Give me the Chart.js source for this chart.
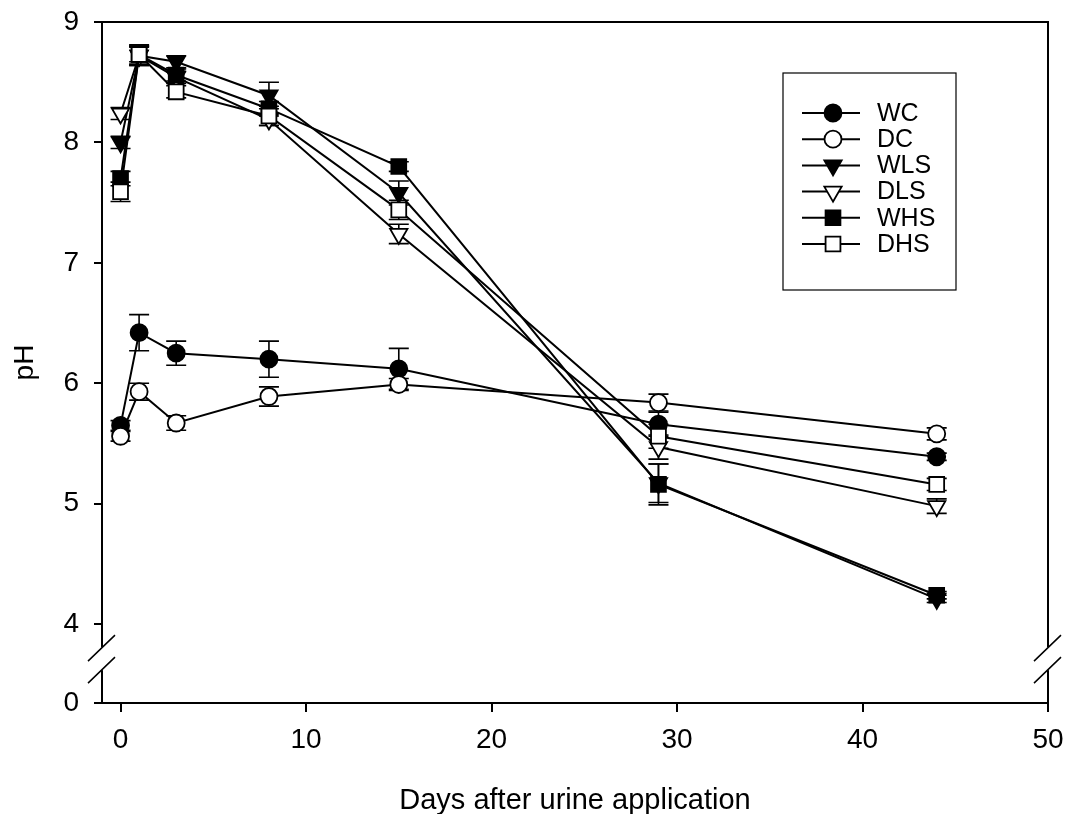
<!DOCTYPE html>
<html><head><meta charset="utf-8">
<script src="https://cdn.jsdelivr.net/npm/chart.js@4.4.0/dist/chart.umd.min.js"></script>
<style>html,body{margin:0;padding:0;background:#fff}#wrap{width:1070px;height:814px}</style>
</head><body><div id="wrap"><canvas id="c" width="1070" height="814"></canvas></div>
<script>
// ---- data ----
const days = [0, 1, 3, 8, 15, 29, 44];
const seriesNames = ['WC', 'DC', 'WLS', 'DLS', 'WHS', 'DHS'];
const WC  = [5.65, 6.42, 6.25, 6.20, 6.12, 5.66, 5.39];
const DC  = [5.56, 5.93, 5.67, 5.89, 5.99, 5.84, 5.58];
const WLS = [8.00, 8.72, 8.67, 8.39, 7.58, 5.17, 4.21];
const DLS = [8.24, 8.72, 8.54, 8.19, 7.24, 5.47, 4.98];
const WHS = [7.70, 8.73, 8.56, 8.28, 7.80, 5.16, 4.24];
const DHS = [7.59, 8.73, 8.42, 8.22, 7.44, 5.56, 5.16];
const WC_err  = [0.04, 0.15, 0.10, 0.15, 0.17, 0.10, 0.03];
const DC_err  = [0.04, 0.07, 0.06, 0.08, 0.05, 0.07, 0.05];
const WLS_err = [0.05, 0.08, 0.05, 0.11, 0.10, 0.16, 0.03];
const DLS_err = [0.05, 0.08, 0.05, 0.05, 0.08, 0.10, 0.06];
const WHS_err = [0.06, 0.06, 0.05, 0.06, 0.04, 0.17, 0.03];
const DHS_err = [0.08, 0.08, 0.05, 0.08, 0.08, 0.10, 0.05];
const xTicks = [0, 10, 20, 30, 40, 50];
const yTicks = [4, 5, 6, 7, 8, 9];
const yBreakLabel = '0';
const xTitle = 'Days after urine application';
const yTitle = 'pH';

const values = [WC, DC, WLS, DLS, WHS, DHS];
const errors = [WC_err, DC_err, WLS_err, DLS_err, WHS_err, DHS_err];
const styles = [
  {pointStyle: 'circle', rot: 0, fill: '#000', r: 8.5},
  {pointStyle: 'circle', rot: 0, fill: '#fff', r: 8.5},
  {pointStyle: 'triangle', rot: 180, fill: '#000', r: 10},
  {pointStyle: 'triangle', rot: 180, fill: '#fff', r: 10},
  {pointStyle: 'rect', rot: 0, fill: '#000', r: 10.5},
  {pointStyle: 'rect', rot: 0, fill: '#fff', r: 10.5}
];
const Y_MIN = 3.345;
const FONT = "'Liberation Sans', Arial, sans-serif";

const datasets = seriesNames.map((name, i) => ({
  label: name,
  data: days.map((d, j) => ({x: d, y: values[i][j]})),
  borderColor: '#000',
  borderWidth: 2,
  backgroundColor: styles[i].fill,
  pointStyle: styles[i].pointStyle,
  pointRotation: styles[i].rot,
  pointRadius: styles[i].r,
  pointHoverRadius: styles[i].r,
  pointBorderWidth: 1.8,
  pointBorderColor: '#000',
  pointBackgroundColor: styles[i].fill,
  fill: false,
  tension: 0,
  order: seriesNames.length - i,
  clip: false
}));

const errorBars = {
  id: 'errorBars',
  beforeDatasetsDraw(chart) {
    const ctx = chart.ctx, ys = chart.scales.y;
    ctx.save();
    ctx.strokeStyle = '#000';
    ctx.lineWidth = 1.6;
    chart.data.datasets.forEach((ds, i) => {
      const meta = chart.getDatasetMeta(i);
      meta.data.forEach((pt, j) => {
        const v = values[i][j], e = errors[i][j];
        const yt = ys.getPixelForValue(v + e), yb = ys.getPixelForValue(v - e);
        const x = pt.x;
        ctx.beginPath();
        ctx.moveTo(x, yt); ctx.lineTo(x, yb);
        ctx.moveTo(x - 10, yt); ctx.lineTo(x + 10, yt);
        ctx.moveTo(x - 10, yb); ctx.lineTo(x + 10, yb);
        ctx.stroke();
      });
    });
    ctx.restore();
  }
};

const frame = {
  id: 'frame',
  afterDraw(chart) {
    const ctx = chart.ctx, a = chart.chartArea;
    ctx.save();
    ctx.strokeStyle = '#000';
    ctx.lineWidth = 2;
    // top and right border
    ctx.beginPath();
    ctx.moveTo(a.left - 1, a.top); ctx.lineTo(a.right + 1, a.top);
    ctx.moveTo(a.right, a.top); ctx.lineTo(a.right, a.bottom);
    ctx.stroke();
    // axis breaks
    const ys = chart.scales.y;
    const y4 = ys.getPixelForValue(4);
    [a.left, a.right].forEach(x => {
      ctx.fillStyle = '#fff';
      ctx.fillRect(x - 3, y4 + 23, 6, 23);
      ctx.lineWidth = 1.5;
      ctx.beginPath();
      ctx.moveTo(x - 14, y4 + 37); ctx.lineTo(x + 13, y4 + 11);
      ctx.moveTo(x - 14, y4 + 59); ctx.lineTo(x + 13, y4 + 33);
      ctx.stroke();
    });
    // legend
    const lx = 783, ly = 73, lw = 173, lh = 217;
    ctx.lineWidth = 1.2;
    ctx.strokeRect(lx, ly, lw, lh);
    ctx.font = '25px ' + FONT;
    ctx.textBaseline = 'middle';
    ctx.textAlign = 'left';
    seriesNames.forEach((name, i) => {
      const y = 113 + i * 26.2;
      ctx.strokeStyle = '#000';
      ctx.lineWidth = 2;
      ctx.beginPath(); ctx.moveTo(802, y); ctx.lineTo(860, y); ctx.stroke();
      ctx.fillStyle = styles[i].fill;
      ctx.lineWidth = 1.8;
      Chart.helpers.drawPoint(ctx, {pointStyle: styles[i].pointStyle, radius: styles[i].r, rotation: styles[i].rot, borderWidth: 1.8}, 833, y);
      ctx.fillStyle = '#000';
      ctx.fillText(name, 877, y + 1);
    });
    ctx.restore();
  }
};

new Chart(document.getElementById('c'), {
  type: 'line',
  data: {datasets},
  options: {
    responsive: false,
    animation: false,
    devicePixelRatio: 1,
    layout: {padding: {top: 22, right: 22, left: 0, bottom: 0}},
    plugins: {legend: {display: false}, tooltip: {enabled: false}},
    scales: {
      x: {
        type: 'linear', min: -1, max: 50,
        afterBuildTicks: s => { s.ticks = xTicks.map(v => ({value: v})); },
        afterFit: s => { s.height = 111; s.paddingLeft = 0; s.paddingRight = 0; },
        grid: {display: true, drawOnChartArea: false, drawTicks: true, tickLength: 9, color: '#000', lineWidth: 2},
        border: {display: true, color: '#000', width: 2},
        ticks: {color: '#000', font: {family: FONT, size: 28}, padding: 11, maxRotation: 0},
        title: {display: true, text: xTitle, color: '#000', font: {family: FONT, size: 29}, padding: {top: 0, bottom: -4}}
      },
      y: {
        type: 'linear', min: Y_MIN, max: 9,
        afterBuildTicks: s => { s.ticks = [{value: Y_MIN}].concat(yTicks.map(v => ({value: v}))); },
        afterFit: s => { s.width = 102; s.paddingTop = 0; s.paddingBottom = 0; },
        grid: {display: true, drawOnChartArea: false, drawTicks: true, tickLength: 8, color: '#000', lineWidth: 2},
        border: {display: true, color: '#000', width: 2},
        ticks: {color: '#000', font: {family: FONT, size: 28}, padding: 15,
          callback: v => (Math.abs(v - Y_MIN) < 1e-6 ? yBreakLabel : String(v))},
        title: {display: true, text: yTitle, color: '#000', font: {family: FONT, size: 28}, padding: {top: 8, bottom: 0}}
      }
    }
  },
  plugins: [errorBars, frame]
});
</script></body></html>
